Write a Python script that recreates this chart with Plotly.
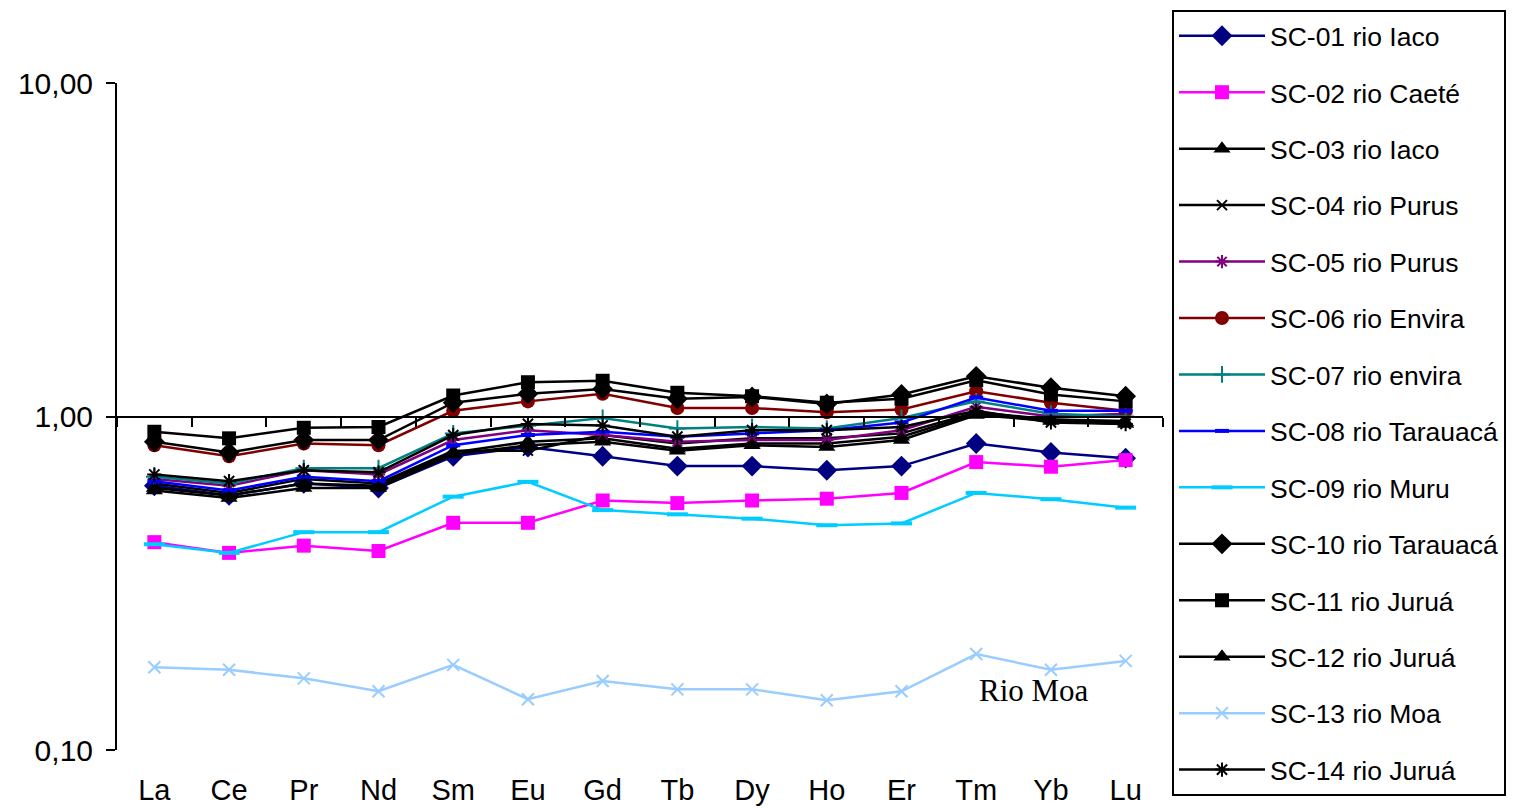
import plotly.graph_objects as go

elements = ["La", "Ce", "Pr", "Nd", "Sm", "Eu", "Gd", "Tb", "Dy", "Ho", "Er", "Tm", "Yb", "Lu"]

sc01 = [0.62, 0.58, 0.63, 0.61, 0.76, 0.81, 0.76, 0.71, 0.71, 0.69, 0.71, 0.83, 0.78, 0.75]
sc02 = [0.42, 0.39, 0.41, 0.395, 0.48, 0.48, 0.56, 0.55, 0.56, 0.567, 0.59, 0.73, 0.707, 0.74]
sc03 = [0.61, 0.58, 0.63, 0.62, 0.78, 0.84, 0.86, 0.80, 0.83, 0.83, 0.87, 1.02, 0.98, 0.96]
sc04 = [0.63, 0.59, 0.65, 0.63, 0.79, 0.79, 0.88, 0.83, 0.86, 0.86, 0.89, 1.03, 0.98, 0.97]
sc05 = [0.65, 0.62, 0.69, 0.67, 0.85, 0.91, 0.88, 0.84, 0.85, 0.85, 0.91, 1.07, 1.00, 1.02]
sc06 = [0.82, 0.76, 0.83, 0.82, 1.04, 1.11, 1.17, 1.06, 1.06, 1.03, 1.05, 1.19, 1.10, 1.04]
sc07 = [0.66, 0.63, 0.70, 0.70, 0.89, 0.94, 0.99, 0.92, 0.93, 0.92, 0.99, 1.11, 1.02, 1.00]
sc08 = [0.64, 0.60, 0.66, 0.64, 0.82, 0.88, 0.90, 0.87, 0.89, 0.91, 0.96, 1.14, 1.04, 1.04]
sc09 = [0.414, 0.39, 0.45, 0.45, 0.575, 0.637, 0.524, 0.509, 0.494, 0.472, 0.478, 0.59, 0.565, 0.533]
sc10 = [0.84, 0.78, 0.85, 0.85, 1.10, 1.17, 1.21, 1.13, 1.145, 1.09, 1.164, 1.32, 1.22, 1.15]
sc11 = [0.90, 0.86, 0.925, 0.93, 1.156, 1.267, 1.28, 1.178, 1.15, 1.10, 1.13, 1.285, 1.164, 1.11]
sc12 = [0.60, 0.57, 0.61, 0.61, 0.77, 0.82, 0.84, 0.79, 0.82, 0.81, 0.85, 1.01, 0.97, 0.95]
sc13 = [0.177, 0.174, 0.164, 0.150, 0.180, 0.142, 0.161, 0.152, 0.152, 0.141, 0.150, 0.194, 0.174, 0.185]
sc14 = [0.67, 0.64, 0.69, 0.68, 0.88, 0.95, 0.94, 0.87, 0.91, 0.91, 0.93, 1.04, 0.96, 0.95]

names = ["SC-01 rio Iaco", "SC-02 rio Caeté", "SC-03 rio Iaco", "SC-04 rio Purus",
         "SC-05 rio Purus", "SC-06 rio Envira", "SC-07 rio envira", "SC-08 rio Tarauacá",
         "SC-09 rio Muru", "SC-10 rio Tarauacá", "SC-11 rio Juruá", "SC-12 rio Juruá",
         "SC-13 rio Moa", "SC-14 rio Juruá"]
series = [sc01, sc02, sc03, sc04, sc05, sc06, sc07, sc08, sc09, sc10, sc11, sc12, sc13, sc14]

colors = ["#000080", "#FF00FF", "#000000", "#000000", "#800080", "#800000", "#008080",
          "#0000FF", "#00CCFF", "#000000", "#000000", "#000000", "#99CCFF", "#000000"]
symbols = ["diamond", "square", "triangle-up", "x-thin-open", "asterisk-open", "circle",
           "cross-thin-open", "line-ew-open", "line-ew-open", "diamond", "square",
           "triangle-up", "x-thin-open", "asterisk-open"]
sizes = [16, 14, 15, 10, 11, 14, 12, 10, 15, 16, 14, 15, 12, 12]
mlw = [0, 0, 0, 2, 2, 0, 2, 4, 4, 0, 0, 0, 2, 2]

xi = list(range(len(elements)))

fig = go.Figure()
for i, (nm, vals) in enumerate(zip(names, series)):
    fig.add_trace(go.Scatter(
        x=xi, y=vals, name=nm, mode="lines+markers", legendgroup=nm,
        line=dict(color=colors[i], width=2.5),
        marker=dict(symbol=symbols[i], size=sizes[i], color=colors[i],
                    line=dict(color=colors[i], width=mlw[i])),
    ))

# helper trace for the axis line drawn at 1,00
fig.add_trace(go.Scatter(x=[None], y=[None], xaxis="x2", yaxis="y",
                         showlegend=False, hoverinfo="skip"))

boundaries = [k - 0.5 for k in range(len(elements) + 1)]

fig.update_layout(
    width=1507, height=801,
    paper_bgcolor="white", plot_bgcolor="white",
    margin=dict(l=109, r=352, t=75, b=59, autoexpand=False),
    font=dict(family="Liberation Sans, Arial, sans-serif", color="black"),
    xaxis=dict(range=[-0.5, 13.5], tickmode="array", tickvals=xi, ticktext=elements,
               showline=False, ticks="", showgrid=False, zeroline=False, automargin=False,
               tickfont=dict(size=29), ticklabelstandoff=20),
    xaxis2=dict(overlaying="x", anchor="free", position=0.5, side="bottom",
                range=[-0.5, 13.5], tickmode="array", tickvals=boundaries,
                showticklabels=False, ticks="outside", ticklen=9, tickwidth=2,
                tickcolor="black", showline=True, linewidth=2, linecolor="black",
                showgrid=False, zeroline=False, automargin=False),
    yaxis=dict(type="log", range=[-1, 1], tickmode="array", tickvals=[0.1, 1, 10],
               ticktext=["0,10", "1,00", "10,00"], ticks="outside", ticklen=9,
               tickwidth=2, tickcolor="black", showline=True, linewidth=2,
               linecolor="black", showgrid=False, zeroline=False, automargin=False,
               tickfont=dict(size=30), ticklabelstandoff=7),
    legend=dict(x=1.0086, y=1.1094, xanchor="left", yanchor="top",
                bordercolor="black", borderwidth=2, bgcolor="white",
                font=dict(size=26.5), tracegroupgap=19, itemwidth=86,
                traceorder="grouped", maxheight=1.0),
    showlegend=True,
)

fig.add_annotation(text="Rio Moa", xref="paper", yref="paper", x=0.877, y=0.0885,
                   xanchor="center", yanchor="middle", showarrow=False,
                   font=dict(family="Liberation Serif, Times New Roman, serif", size=31))

fig.write_html("out.html")
